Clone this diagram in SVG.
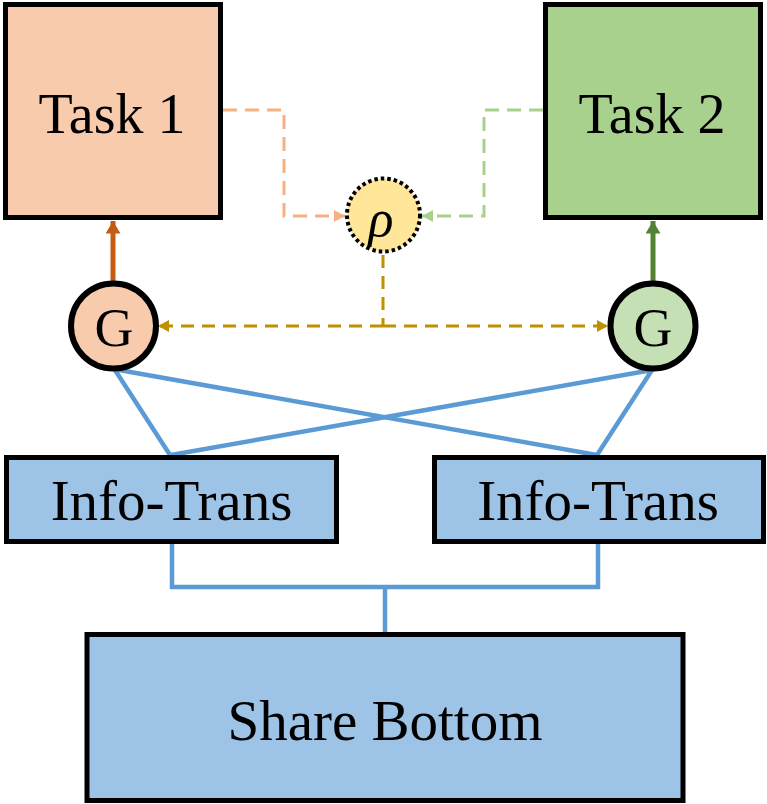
<svg xmlns="http://www.w3.org/2000/svg" width="767" height="804" viewBox="0 0 767 804">
<style>
.box{stroke:#000;stroke-width:5}
.t{font-family:"Liberation Serif","Times New Roman",serif;fill:#000;text-anchor:middle}
.blue{fill:none;stroke:#5B9BD5;stroke-width:4.5}
</style>
<defs>
<marker id="ahO" markerWidth="18" markerHeight="15" refX="15" refY="9" orient="auto" markerUnits="userSpaceOnUse" viewBox="0 0 15 18"><path d="M0,0 L15,9 L0,18 Z" fill="#C55A11"/></marker>
<marker id="ahG" markerWidth="18" markerHeight="15" refX="15" refY="9" orient="auto" markerUnits="userSpaceOnUse" viewBox="0 0 15 18"><path d="M0,0 L15,9 L0,18 Z" fill="#548235"/></marker>
<marker id="ahLO" viewBox="0 0 11 12" refX="11" refY="6" markerWidth="11" markerHeight="12" orient="auto" markerUnits="userSpaceOnUse"><path d="M0,0 L11,6 L0,12 Z" fill="#F4B183"/></marker>
<marker id="ahLG" viewBox="0 0 11 12" refX="11" refY="6" markerWidth="11" markerHeight="12" orient="auto" markerUnits="userSpaceOnUse"><path d="M0,0 L11,6 L0,12 Z" fill="#A9D18E"/></marker>
<marker id="ahY" viewBox="0 0 11 12" refX="11" refY="6" markerWidth="11" markerHeight="12" orient="auto" markerUnits="userSpaceOnUse"><path d="M0,0 L11,6 L0,12 Z" fill="#BF9000"/></marker>
</defs>
<g id="connectors">
<path class="blue" d="M115,370 L170,455 M119,370 L597,455 M652,370 L597,455 M652,370 L171,455"/>
<path class="blue" d="M172,543 L172,587 L598,587 L598,543 M385,587 L385,632"/>
<path d="M113,282 L113,221" stroke="#C55A11" stroke-width="5" fill="none" marker-end="url(#ahO)"/>
<path d="M653,282 L653,221" stroke="#548235" stroke-width="5" fill="none" marker-end="url(#ahG)"/>
<path d="M223,110 L284,110 L284,216 L345,216" stroke="#F4B183" stroke-width="3" stroke-dasharray="14 8" fill="none" marker-end="url(#ahLO)"/>
<path d="M543,110 L484,110 L484,216 L422,216" stroke="#A9D18E" stroke-width="3" stroke-dasharray="14 8" fill="none" marker-end="url(#ahLG)"/>
<path d="M383,255 L383,326" stroke="#BF9000" stroke-width="3" stroke-dasharray="13 8" fill="none"/>
<path d="M383,326 L158,326" stroke="#BF9000" stroke-width="3" stroke-dasharray="13 8" fill="none" marker-end="url(#ahY)"/>
<path d="M383,326 L608,326" stroke="#BF9000" stroke-width="3" stroke-dasharray="13 8" fill="none" marker-end="url(#ahY)"/>
</g>
<g id="task1">
<rect class="box" x="5.5" y="4.5" width="215" height="213" fill="#F8CBAD"/>
<text class="t" x="112" y="133" font-size="56">Task 1</text>
</g>
<g id="task2">
<rect class="box" x="545.5" y="4.5" width="215" height="213" fill="#A9D18E"/>
<text class="t" x="652" y="133" font-size="56">Task 2</text>
</g>
<g id="rho">
<circle cx="383.5" cy="215" r="36.5" fill="#FFE699" stroke="#000" stroke-width="4" stroke-dasharray="3.5 3"/>
<text class="t" x="381" y="236" font-size="52" font-style="italic">ρ</text>
</g>
<g id="gate1">
<circle cx="113.5" cy="326" r="42.5" fill="#F8CBAD" stroke="#000" stroke-width="6"/>
<text class="t" x="114" y="346" font-size="54">G</text>
</g>
<g id="gate2">
<circle cx="653" cy="326" r="42.5" fill="#C5E0B4" stroke="#000" stroke-width="6"/>
<text class="t" x="653" y="346" font-size="54">G</text>
</g>
<g id="info1">
<rect class="box" x="6.5" y="457.5" width="330" height="84" fill="#9DC3E6"/>
<text class="t" x="171.5" y="520" font-size="57">Info-Trans</text>
</g>
<g id="info2">
<rect class="box" x="434.5" y="457.5" width="329" height="84" fill="#9DC3E6"/>
<text class="t" x="598" y="520" font-size="57">Info-Trans</text>
</g>
<g id="share">
<rect class="box" x="87" y="634.5" width="596" height="166" fill="#9DC3E6"/>
<text class="t" x="385" y="740" font-size="57">Share Bottom</text>
</g>
</svg>
